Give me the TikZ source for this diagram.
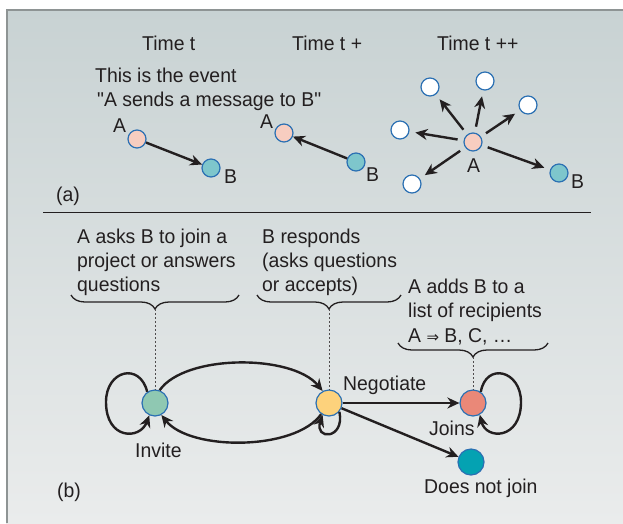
\documentclass[tikz,border=0pt]{standalone}
\usepackage{fontspec}
\setmainfont{Liberation Sans}[Ligatures=TeXOff, FakeStretch=0.97]
\newfontfamily\symf{DejaVu Sans}
\usetikzlibrary{arrows.meta,decorations.pathreplacing}
\definecolor{bgtop}{HTML}{C8D2D3}
\definecolor{bgbot}{HTML}{EAECEC}
\definecolor{framec}{HTML}{8E9494}
\definecolor{txtc}{HTML}{231F20}
\definecolor{nodeb}{HTML}{2B70B3}
\definecolor{pinkc}{HTML}{F7CDC0}
\definecolor{cyanc}{HTML}{7EC6CC}
\definecolor{invc}{HTML}{8FC8B2}
\definecolor{negc}{HTML}{FDD27C}
\definecolor{joic}{HTML}{EA8878}
\definecolor{dnjc}{HTML}{04A2B2}
\begin{document}
\begin{tikzpicture}[x=1pt,y=1pt,
  txt/.style={anchor=base west, inner sep=0pt, font=\fontsize{20}{24}\selectfont, text=txtc},
  smallnode/.style={circle, draw=nodeb, line width=1.2pt, minimum size=18pt, inner sep=0pt},
  bignode/.style={circle, draw=nodeb, line width=1.2pt, minimum size=26pt, inner sep=0pt},
  arr/.style={draw=txtc, line width=2.4pt, -{Stealth[length=12pt,width=11pt]}},
  bracestyle/.style={draw=txtc, line width=1.3pt, decorate, decoration={brace, mirror, amplitude=14pt}},
  dots/.style={draw=txtc!80, line width=1pt, dash pattern=on 2pt off 2pt},
  gap/.style={shorten >=6pt, shorten <=6pt}
]
\useasboundingbox (0,0) rectangle (623,-523);
\fill[white] (0,0) rectangle (623,-523);
\shade[top color=bgtop, bottom color=bgbot] (6,-9) rectangle (623,-523);
\draw[framec, line width=2pt] (7,-523) -- (7,-10) -- (623,-10);

% ---------- panel (a) ----------
\node[txt] (tt1) at (142,-50) {Time t};
\node[txt] (tt2) at (292,-50) {Time t +};
\node[txt] (tt3) at (437,-50) {Time t ++};
\node[txt] (ev1) at (95,-82) {This is the event};
\node[txt] (ev2) at (97,-106) {"A sends a message to B"};

\node[smallnode, fill=pinkc] (aA) at (137,-139) {};
\node[smallnode, fill=cyanc] (aB) at (211,-168) {};
\node[txt] (aAl) at (113,-132) {A};
\node[txt] (aBl) at (224,-183) {B};
\draw[arr] (aA) -- (aB);

\node[smallnode, fill=pinkc] (bA) at (284,-133) {};
\node[smallnode, fill=cyanc] (bB) at (356,-162) {};
\node[txt] (bAl) at (260,-128) {A};
\node[txt] (bBl) at (366,-181) {B};
\draw[arr] (bB) -- (bA);

\node[smallnode, fill=pinkc] (cA) at (473,-142) {};
\node[smallnode, fill=cyanc] (cB) at (559,-173) {};
\node[txt] (cAl) at (467,-172) {A};
\node[txt] (cBl) at (571,-188) {B};
\node[smallnode, fill=white] (w1) at (430,-87) {};
\node[smallnode, fill=white] (w2) at (485,-81) {};
\node[smallnode, fill=white] (w3) at (528,-105) {};
\node[smallnode, fill=white] (w4) at (400,-130) {};
\node[smallnode, fill=white] (w5) at (412,-184) {};
\foreach \t in {w1,w2,w3,w4,w5,cB} \draw[arr, gap] (cA) -- (\t);

\node[txt] (la) at (56,-201) {(a)};
\coordinate (sepL) at (43,-212);
\coordinate (sepR) at (591,-212);
\draw[txtc, line width=1pt] (sepL) -- (sepR);

% ---------- panel (b) ----------
\node[txt] (p1a) at (77,-243) {A asks B to join a};
\node[txt] (p1b) at (77,-267) {project or answers};
\node[txt] (p1c) at (77,-291) {questions};
\node[txt] (p2a) at (262,-243) {B responds};
\node[txt] (p2b) at (262,-267) {(asks questions};
\node[txt] (p2c) at (262,-291) {or accepts)};
\node[txt] (p3a) at (408,-293) {A adds B to a};
\node[txt] (p3b) at (408,-317) {list of recipients};
\node[txt] (p3c) at (408,-342) {A {\symf\fontsize{15}{18}\selectfont ⇒} B, C, …};

\coordinate (b1L) at (71,-295);  \coordinate (b1R) at (239,-295);
\coordinate (b2L) at (257,-295); \coordinate (b2R) at (401,-295);
\coordinate (b3L) at (398,-343); \coordinate (b3R) at (548,-343);
\draw[bracestyle] (b1L) -- (b1R);
\draw[bracestyle] (b2L) -- (b2R);
\draw[bracestyle] (b3L) -- (b3R);
\coordinate (t1) at (155,-309);
\coordinate (t2) at (329,-309);
\coordinate (t3) at (473,-357);

\node[bignode, fill=invc] (inv) at (155,-403) {};
\node[bignode, fill=negc] (neg) at (329,-403) {};
\node[bignode, fill=joic] (joi) at (473,-403) {};
\node[bignode, fill=dnjc] (dnj) at (471,-462) {};

\draw[dots] (t1) -- (inv);
\draw[dots] (t2) -- (neg);
\draw[dots] (t3) -- (joi);

\node[txt] (invl) at (135,-457) {Invite};
\node[txt] (negl) at (343,-390) {Negotiate};
\node[txt] (joil) at (429,-435) {Joins};
\node[txt] (dnjl) at (424,-493) {Does not join};
\node[txt] (lb) at (57,-497) {(b)};

\coordinate (invleft) at (106,-402);
\coordinate (joiright) at (521,-402);
\draw[arr] (inv.125) .. controls (140,-362) and (106,-370) .. (invleft)
  .. controls (106,-440) and (140,-440) .. (inv.-115);
\draw[arr] (joi.55) .. controls (486,-362) and (521,-370) .. (joiright)
  .. controls (521,-440) and (486,-440) .. (joi.-60);
\draw[arr] (inv.70) .. controls (185,-354) and (292,-354) .. (neg.118);
\draw[arr] (neg.-125) .. controls (295,-451) and (190,-451) .. (inv.-62);
\draw[arr] (neg.-40) .. controls (345,-440) and (314,-440) .. (neg.-118);
\draw[arr] (neg) -- (joi);
\draw[arr] (neg) -- (dnj);
\end{tikzpicture}
\end{document}
